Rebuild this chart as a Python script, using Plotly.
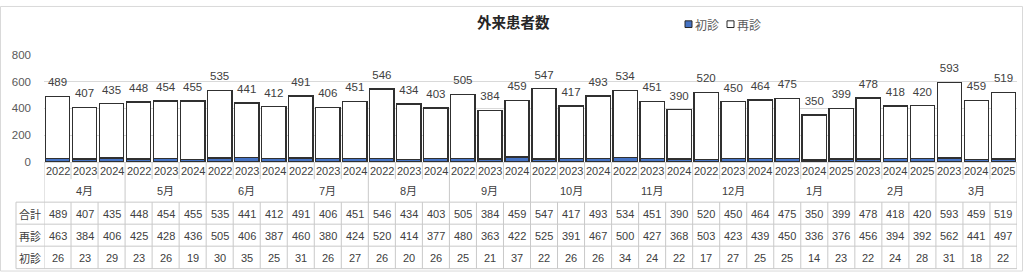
import plotly.graph_objects as go

# ---- data ----
months = ["4月", "5月", "6月", "7月", "8月", "9月", "10月", "11月", "12月", "1月", "2月", "3月"]
years = ["2022", "2023", "2024"] * 9 + ["2023", "2024", "2025"] * 3
total = [489, 407, 435, 448, 454, 455, 535, 441, 412, 491, 406, 451, 546, 434, 403, 505, 384, 459,
         547, 417, 493, 534, 451, 390, 520, 450, 464, 475, 350, 399, 478, 418, 420, 593, 459, 519]
revisit = [463, 384, 406, 425, 428, 436, 505, 406, 387, 460, 380, 424, 520, 414, 377, 480, 363, 422,
           525, 391, 467, 500, 427, 368, 503, 423, 439, 450, 336, 376, 456, 394, 392, 562, 441, 497]
first = [26, 23, 29, 23, 26, 19, 30, 35, 25, 31, 26, 27, 26, 20, 26, 25, 21, 37,
         22, 26, 26, 34, 24, 22, 17, 27, 25, 25, 14, 23, 22, 24, 28, 31, 18, 22]
row_names = ["合計", "再診", "初診"]
yticks = [0, 200, 400, 600, 800]
title = "外来患者数"

W, H = 1024, 278
FONT = "'Liberation Sans', Arial, 'Noto Sans CJK JP', sans-serif"
JFONT = "'Noto Sans CJK JP', sans-serif"


def px(x):
    return x / W


def py(y):
    return 1 - y / H


n = len(total)
xs = list(range(n))

fig = go.Figure()
fig.add_trace(go.Bar(x=xs, y=first, name="初診", width=0.9,
                     marker=dict(color="#4472C4", line=dict(color="#303030", width=1.4)),
                     hoverinfo="skip"))
fig.add_trace(go.Bar(x=xs, y=revisit, name="再診", width=0.9,
                     marker=dict(color="#FFFFFF", line=dict(color="#303030", width=1.4)),
                     hoverinfo="skip"))
fig.add_trace(go.Scatter(x=xs, y=total, mode="markers+text", text=[str(v) for v in total],
                         textposition="top center",
                         marker=dict(size=10, color="rgba(0,0,0,0)"),
                         textfont=dict(family=FONT, size=11.5, color="#404040"),
                         showlegend=False, hoverinfo="skip"))

GRID = "#d9d9d9"
TBL = "#c9c9c9"
shapes = []
annotations = []


def label(x, y, text, xref="x", size=11, family=FONT, color="#404040", xanchor="center"):
    annotations.append(dict(x=x, y=y, xref=xref, yref="paper", text=text, showarrow=False,
                            xanchor=xanchor, yanchor="middle",
                            font=dict(family=family, size=size, color=color)))


# outer chart border
shapes.append(dict(type="rect", xref="paper", yref="paper", x0=px(0.5), x1=px(1022.5),
                   y0=py(277), y1=py(0.5), line=dict(color=GRID, width=1)))

y_axis = py(163)
# year row separators
for i in range(1, n):
    if i % 3 != 0:
        shapes.append(dict(type="line", xref="x", yref="paper", x0=i - 0.5, x1=i - 0.5,
                           y0=y_axis, y1=py(181), line=dict(color=TBL, width=1)))
# group separators (through year + month rows)
for i in range(0, n + 1, 3):
    shapes.append(dict(type="line", xref="x", yref="paper", x0=i - 0.5, x1=i - 0.5,
                       y0=y_axis, y1=py(205), line=dict(color=TBL, width=1)))
# table verticals
for i in range(0, n + 1):
    shapes.append(dict(type="line", xref="x", yref="paper", x0=i - 0.5, x1=i - 0.5,
                       y0=py(205), y1=py(274.5), line=dict(color=TBL, width=1)))
shapes.append(dict(type="line", xref="paper", yref="paper", x0=px(16), x1=px(16),
                   y0=py(205), y1=py(274.5), line=dict(color=TBL, width=1)))
# table horizontals
for yy in [205, 228, 251, 274.5]:
    shapes.append(dict(type="line", xref="paper", yref="paper",
                       x0=px(16), x1=px(1017), y0=py(yy), y1=py(yy),
                       line=dict(color=TBL, width=1)))

# year labels
for i, yr in enumerate(years):
    label(i, py(172.5), yr)
# month labels
for k, m in enumerate(months):
    label(3 * k + 1, py(193), m)
# table rows
rows = [total, revisit, first]
row_y = [217, 240, 263]
for name, vals, yy in zip(row_names, rows, row_y):
    label(px(30), py(yy), name, xref="paper", family=JFONT)
    for i, v in enumerate(vals):
        label(i, py(yy), str(v))

# title
label(px(513), py(16), "<b>" + title + "</b>", xref="paper", size=14.5, family=JFONT, color="#262626")
# manual legend
leg = [("初診", "#4472C4", 685, 693), ("再診", "#FFFFFF", 727, 735)]
for name, col, sx, tx in leg:
    shapes.append(dict(type="rect", xref="paper", yref="paper", x0=px(sx), x1=px(sx + 7),
                       y0=py(22.5), y1=py(15.5), fillcolor=col, line=dict(color="#262626", width=1)))
    label(px(tx), py(19), name, xref="paper", size=12, family=JFONT, color="#595959", xanchor="left")

fig.update_layout(
    width=W, height=H,
    margin=dict(l=0, r=0, t=0, b=0),
    paper_bgcolor="white", plot_bgcolor="white",
    barmode="stack", bargap=0.07,
    showlegend=False,
    xaxis=dict(domain=[px(44), px(1017)], range=[-0.5, n - 0.5], showticklabels=False,
               showgrid=False, zeroline=False, showline=True, linecolor=GRID, linewidth=1,
               fixedrange=True),
    yaxis=dict(domain=[py(163), py(51)], range=[0, 800], tickvals=yticks,
               showgrid=True, gridcolor=GRID, gridwidth=1, zeroline=False, ticks="",
               ticklabelstandoff=12,
               tickfont=dict(family=FONT, size=11.5, color="#595959"), fixedrange=True),
    shapes=shapes, annotations=annotations,
)

fig.write_html("out.html")
